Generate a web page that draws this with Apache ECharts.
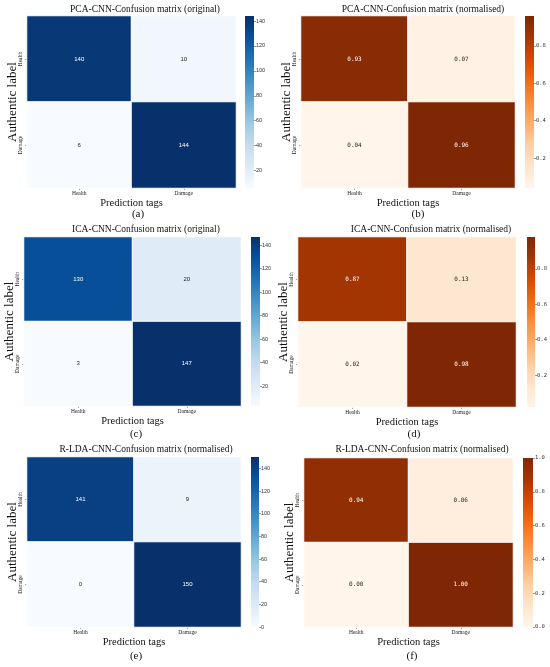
<!DOCTYPE html>
<html>
<head>
<meta charset="utf-8">
<script src="https://cdn.jsdelivr.net/npm/echarts@6/dist/echarts.min.js"></script>
<style>
  html, body { margin: 0; padding: 0; background: #fff; }
  #main { width: 550px; height: 667px; }
</style>
</head>
<body>
<div id="main"></div>
<script>
// data
var categories = ['Health', 'Damage'];
var titles = [
    'PCA-CNN-Confusion matrix (original)',
    'PCA-CNN-Confusion matrix (normalised)',
    'ICA-CNN-Confusion matrix (original)',
    'ICA-CNN-Confusion matrix (normalised)',
    'R-LDA-CNN-Confusion matrix (normalised)',
    'R-LDA-CNN-Confusion matrix (normalised)'
];
var letters = ['(a)', '(b)', '(c)', '(d)', '(e)', '(f)'];
var pcaOriginal = [[140, 10], [6, 144]];
var pcaNormalised = [[0.93, 0.07], [0.04, 0.96]];
var icaOriginal = [[130, 20], [3, 147]];
var icaNormalised = [[0.87, 0.13], [0.02, 0.98]];
var rldaOriginal = [[141, 9], [0, 150]];
var rldaNormalised = [[0.94, 0.06], [0.00, 1.00]];
var countTicks = [20, 40, 60, 80, 100, 120, 140];
var countTicksZero = [0, 20, 40, 60, 80, 100, 120, 140];
var rateTicks = [0.2, 0.4, 0.6, 0.8];
var rateTicksZero = [0.0, 0.2, 0.4, 0.6, 0.8, 1.0];

// colormaps (matplotlib Blues / Oranges)
var BLUES = ['#f7fbff', '#deebf7', '#c6dbef', '#9ecae1', '#6baed6', '#4292c6', '#2171b5', '#08519c', '#08306b'];
var ORANGES = ['#fff5eb', '#fee6ce', '#fdd0a2', '#fdae6b', '#fd8d3c', '#f16913', '#d94801', '#a63603', '#7f2704'];

var panels = [
    { matrix: pcaOriginal, ticks: countTicks, palette: BLUES, digits: 0 },
    { matrix: pcaNormalised, ticks: rateTicks, palette: ORANGES, digits: 2 },
    { matrix: icaOriginal, ticks: countTicks, palette: BLUES, digits: 0 },
    { matrix: icaNormalised, ticks: rateTicks, palette: ORANGES, digits: 2 },
    { matrix: rldaOriginal, ticks: countTicksZero, palette: BLUES, digits: 0 },
    { matrix: rldaNormalised, ticks: rateTicksZero, palette: ORANGES, digits: 2 }
];

// layout in px: heatmap box, colorbar box, title / letter centres
var layout = [
    { hx: 27, hy: 16, hw: 209, hh: 172, cx: 245, cw: 9, tx: 145, ty: 9, lx: 138, ly: 214 },
    { hx: 301, hy: 16, hw: 214, hh: 172, cx: 525, cw: 9, tx: 423, ty: 9, lx: 418, ly: 214 },
    { hx: 24, hy: 237, hw: 217, hh: 169, cx: 251, cw: 9, tx: 146, ty: 229, lx: 136, ly: 434 },
    { hx: 298, hy: 237, hw: 218, hh: 170, cx: 527, cw: 9, tx: 431, ty: 229, lx: 414, ly: 434 },
    { hx: 27, hy: 457, hw: 214, hh: 170, cx: 251, cw: 8, tx: 146, ty: 449, lx: 136, ly: 656 },
    { hx: 304, hy: 458, hw: 209, hh: 169, cx: 523, cw: 10, tx: 422, ty: 449, lx: 412, ly: 656 }
];

var SERIF = '"Liberation Serif", "Times New Roman", serif';
var SANS = '"Liberation Sans", Arial, sans-serif';
var MONO = '"DejaVu Sans Mono", monospace';

var grid = [], xAxis = [], yAxis = [], series = [], visualMap = [], graphic = [];

panels.forEach(function (p, i) {
    var L = layout[i];
    var flat = p.matrix[0].concat(p.matrix[1]);
    var vmin = Math.min.apply(null, flat);
    var vmax = Math.max.apply(null, flat);
    var numFont = p.digits ? MONO : SANS;

    // heatmap grid
    grid.push({ left: L.hx, top: L.hy, width: L.hw, height: L.hh });
    xAxis.push({
        type: 'category', gridIndex: 2 * i, data: categories,
        name: 'Prediction tags', nameLocation: 'middle', nameGap: 8,
        nameTextStyle: { fontFamily: SERIF, fontSize: 10.5, color: '#111' },
        axisLine: { show: false },
        axisTick: { show: true, alignWithLabel: true, length: 2, lineStyle: { color: '#666', width: 0.6 } },
        axisLabel: { fontFamily: SERIF, fontSize: 5.5, color: '#222', margin: 3 },
        splitLine: { show: false }
    });
    yAxis.push({
        type: 'category', gridIndex: 2 * i, data: categories, inverse: true,
        name: 'Authentic label', nameLocation: 'middle', nameGap: 8, nameMoveOverlap: false,
        nameTextStyle: { fontFamily: SERIF, fontSize: 13, color: '#111' },
        axisLine: { show: false },
        axisTick: { show: true, alignWithLabel: true, length: 2, lineStyle: { color: '#666', width: 0.6 } },
        axisLabel: { fontFamily: SERIF, fontSize: 5.5, color: '#222', margin: 3, rotate: 90 },
        splitLine: { show: false }
    });

    // colorbar grid
    grid.push({ left: L.cx, top: L.hy, width: L.cw, height: L.hh });
    xAxis.push({ type: 'category', gridIndex: 2 * i + 1, data: [''], show: false });
    yAxis.push({
        type: 'value', gridIndex: 2 * i + 1, position: 'right', min: vmin, max: vmax,
        axisLine: { show: false },
        splitLine: { show: false },
        axisTick: { show: true, length: 2, customValues: p.ticks, lineStyle: { color: '#555', width: 0.6 } },
        axisLabel: {
            customValues: p.ticks, fontFamily: numFont, fontSize: 5.5, color: '#333', margin: 2,
            formatter: function (v) { return p.digits ? v.toFixed(1) : String(v); }
        }
    });

    var data = [];
    p.matrix.forEach(function (row, r) {
        row.forEach(function (v, c) {
            var t = (v - vmin) / (vmax - vmin);
            data.push({ value: [c, r, v], label: { color: t > 0.5 ? '#ffffff' : '#262626' } });
        });
    });
    series.push({
        type: 'heatmap', xAxisIndex: 2 * i, yAxisIndex: 2 * i, data: data,
        itemStyle: { borderColor: '#ffffff', borderWidth: 1 },
        emphasis: { disabled: true },
        label: {
            show: true, fontFamily: numFont, fontSize: 6,
            formatter: function (prm) { return p.digits ? prm.value[2].toFixed(p.digits) : String(prm.value[2]); }
        }
    });

    visualMap.push({
        type: 'continuous', seriesIndex: 2 * i, min: vmin, max: vmax,
        show: false, inRange: { color: p.palette }
    });

    // colorbar: one bar spanning vmin..vmax filled with the colormap
    var stops = p.palette.slice().reverse().map(function (c, k, arr) {
        return { offset: k / (arr.length - 1), color: c };
    });
    series.push({
        type: 'bar', xAxisIndex: 2 * i + 1, yAxisIndex: 2 * i + 1,
        data: [vmax], barWidth: '100%', silent: true,
        itemStyle: { color: new echarts.graphic.LinearGradient(0, 0, 0, 1, stops) }
    });

    graphic.push({
        type: 'text', x: L.tx, y: L.ty,
        style: { text: titles[i], font: '9.5px ' + SERIF, fill: '#111', align: 'center', verticalAlign: 'middle' }
    });
    graphic.push({
        type: 'text', x: L.lx, y: L.ly,
        style: { text: letters[i], font: '11px ' + SERIF, fill: '#111', align: 'center', verticalAlign: 'middle' }
    });
});

var chart = echarts.init(document.getElementById('main'));
chart.setOption({
    backgroundColor: '#ffffff',
    animation: false,
    grid: grid,
    xAxis: xAxis,
    yAxis: yAxis,
    visualMap: visualMap,
    series: series,
    graphic: graphic
});
window.onresize = function () { chart.resize(); };
</script>
</body>
</html>
